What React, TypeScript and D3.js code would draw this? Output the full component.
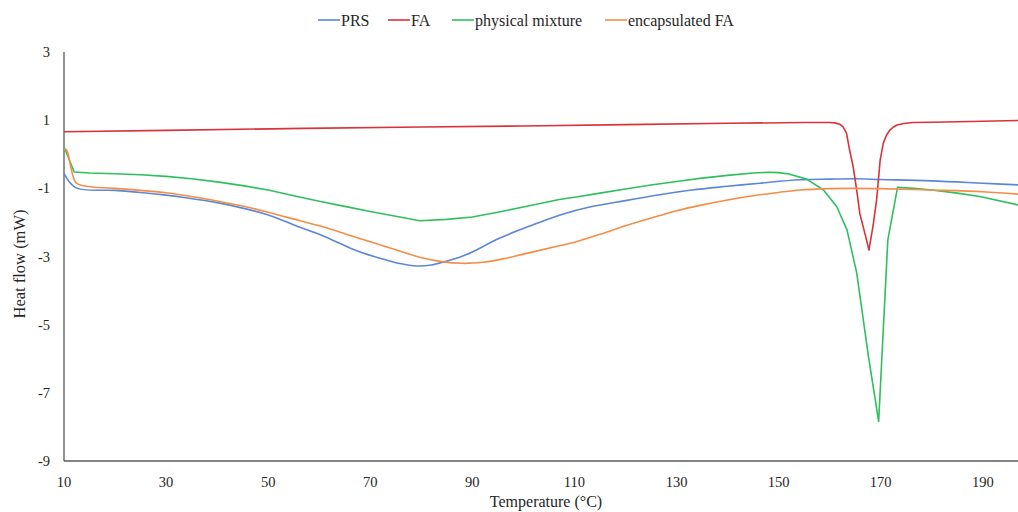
import React, { useEffect, useRef } from "react";
import * as d3 from "d3";

const xTicks = [10, 30, 50, 70, 90, 110, 130, 150, 170, 190];
const yTicks = [3, 1, -1, -3, -5, -7, -9];

const prsTemp = [10, 12.3, 20, 25, 30, 33.5, 40, 45, 50, 56.2, 60, 64.1, 68, 71.9, 75.5, 79.3, 82, 84.6, 87.5, 90.1, 95.4, 101.9, 107.2, 113, 120, 126.7, 133, 140, 146.3, 154.2, 160, 165, 170, 180, 190, 197];
const prsHeat = [-0.56, -0.98, -1.06, -1.12, -1.2, -1.27, -1.42, -1.58, -1.78, -2.14, -2.35, -2.62, -2.87, -3.05, -3.2, -3.28, -3.25, -3.15, -3.02, -2.86, -2.46, -2.07, -1.78, -1.55, -1.36, -1.19, -1.05, -0.94, -0.85, -0.75, -0.73, -0.72, -0.74, -0.78, -0.85, -0.9];

const faTemp = [10, 30, 57, 80, 100, 120, 140, 155, 160, 161, 162, 162.6, 163.3, 163.9, 164.6, 165.3, 165.9, 166.9, 167.7, 168.5, 169.2, 169.9, 170.5, 171.1, 171.8, 172.5, 173.2, 174.5, 176.3, 180, 190, 197];
const faHeat = [0.66, 0.7, 0.76, 0.8, 0.83, 0.87, 0.91, 0.93, 0.93, 0.92, 0.88, 0.81, 0.62, 0.13, -0.36, -1.05, -1.73, -2.32, -2.81, -2.1, -1.34, -0.17, 0.32, 0.55, 0.71, 0.8, 0.86, 0.9, 0.93, 0.94, 0.97, 0.99];

const pmTemp = [10, 12, 15, 20, 25, 30, 35, 40, 45, 50, 55, 60, 65, 70, 75, 79.7, 85, 90, 95, 100, 107, 110, 115, 120, 125, 130, 135, 140, 145, 148, 150, 152, 155.5, 158.8, 161.4, 163.4, 165.3, 167.6, 169.6, 171.4, 173.3, 176.5, 180, 185, 189.4, 197];
const pmHeat = [0.22, -0.52, -0.55, -0.57, -0.6, -0.65, -0.72, -0.81, -0.92, -1.05, -1.22, -1.38, -1.53, -1.68, -1.82, -1.95, -1.91, -1.84, -1.7, -1.55, -1.33, -1.26, -1.14, -1.02, -0.9, -0.8, -0.7, -0.62, -0.55, -0.53, -0.54, -0.58, -0.73, -1.05, -1.54, -2.22, -3.48, -5.93, -7.84, -2.51, -0.97, -1.0, -1.05, -1.14, -1.24, -1.49];

const encTemp = [10, 10.5, 12.3, 14, 20, 25, 30, 35, 40, 45, 50, 56.2, 60, 65, 70, 75, 79.7, 84, 88, 92, 96, 100, 107.2, 110, 115, 120, 126.7, 130, 134.6, 140, 146.3, 150, 154.2, 160, 165, 170, 180, 190, 197];
const encHeat = [0.15, 0.12, -0.83, -0.93, -1.0, -1.06, -1.13, -1.24, -1.37, -1.52, -1.7, -1.95, -2.1, -2.33, -2.57, -2.8, -3.02, -3.15, -3.2, -3.17, -3.07, -2.93, -2.68, -2.58, -2.35, -2.1, -1.8, -1.66, -1.5, -1.34, -1.19, -1.12, -1.05, -1.01, -1.0, -1.01, -1.05, -1.1, -1.17];

const seriesNames = ["PRS", "FA", "physical mixture", "encapsulated FA"];
const seriesColors = ["#5b87d6", "#d8333a", "#2fbf5c", "#f58d47"];

const W = 1018;
const H = 512;
const M = { left: 64, right: 0, top: 52, bottom: 51 };

export default function App() {
  const ref = useRef<SVGSVGElement>(null);

  useEffect(() => {
    const svg = d3.select(ref.current);
    svg.selectAll("*").remove();
    const font = "'Liberation Serif', 'Times New Roman', serif";

    const x = d3.scaleLinear().domain([10, 196.9]).range([M.left, W - M.right]);
    const y = d3.scaleLinear().domain([-9, 3]).range([H - M.bottom, M.top]);

    const data = [
      prsTemp.map((t, i) => [t, prsHeat[i]]),
      faTemp.map((t, i) => [t, faHeat[i]]),
      pmTemp.map((t, i) => [t, pmHeat[i]]),
      encTemp.map((t, i) => [t, encHeat[i]]),
    ];
    const curves = [d3.curveCatmullRom.alpha(0.5), d3.curveLinear, d3.curveLinear, d3.curveCatmullRom.alpha(0.5)];

    const g = svg.append("g");

    g.append("line")
      .attr("x1", x(10)).attr("x2", x(10))
      .attr("y1", y(3)).attr("y2", y(-9))
      .attr("stroke", "#595959").attr("stroke-width", 1.3);
    g.append("line")
      .attr("x1", x(10)).attr("x2", W)
      .attr("y1", y(-9)).attr("y2", y(-9))
      .attr("stroke", "#595959").attr("stroke-width", 1.3);

    g.selectAll(".yt").data(yTicks).enter().append("text")
      .attr("x", 50).attr("y", (d) => y(d)).attr("dy", "0.35em")
      .attr("text-anchor", "end")
      .attr("font-family", font).attr("font-size", 14.5).attr("fill", "#262626")
      .text((d) => String(d));

    g.selectAll(".xt").data(xTicks).enter().append("text")
      .attr("x", (d) => x(d)).attr("y", 487)
      .attr("text-anchor", "middle")
      .attr("font-family", font).attr("font-size", 14.5).attr("fill", "#262626")
      .text((d) => String(d));

    g.append("text")
      .attr("x", 546).attr("y", 507)
      .attr("text-anchor", "middle")
      .attr("font-family", font).attr("font-size", 16).attr("fill", "#262626")
      .text("Temperature (°C)");
    g.append("text")
      .attr("transform", `translate(25,264) rotate(-90)`)
      .attr("text-anchor", "middle")
      .attr("font-family", font).attr("font-size", 16.5).attr("fill", "#262626")
      .text("Heat flow (mW)");

    data.forEach((d, i) => {
      const line = d3.line<number[]>()
        .x((p) => x(p[0]))
        .y((p) => y(p[1]))
        .curve(curves[i]);
      g.append("path")
        .attr("d", line(d as any) as string)
        .attr("fill", "none")
        .attr("stroke", seriesColors[i])
        .attr("stroke-width", 1.6)
        .attr("stroke-linejoin", "round");
    });

    const legendX = [318, 388, 452, 605];
    seriesNames.forEach((name, i) => {
      g.append("line")
        .attr("x1", legendX[i]).attr("x2", legendX[i] + 22)
        .attr("y1", 20).attr("y2", 20)
        .attr("stroke", seriesColors[i]).attr("stroke-width", 1.6);
      g.append("text")
        .attr("x", legendX[i] + 23).attr("y", 20).attr("dy", "0.35em")
        .attr("font-family", font).attr("font-size", 16).attr("fill", "#262626")
        .text(name);
    });
  }, []);

  return (
    <svg
      ref={ref}
      width={W}
      height={H}
      style={{ position: "absolute", left: 0, top: 0, background: "#fff" }}
    />
  );
}
